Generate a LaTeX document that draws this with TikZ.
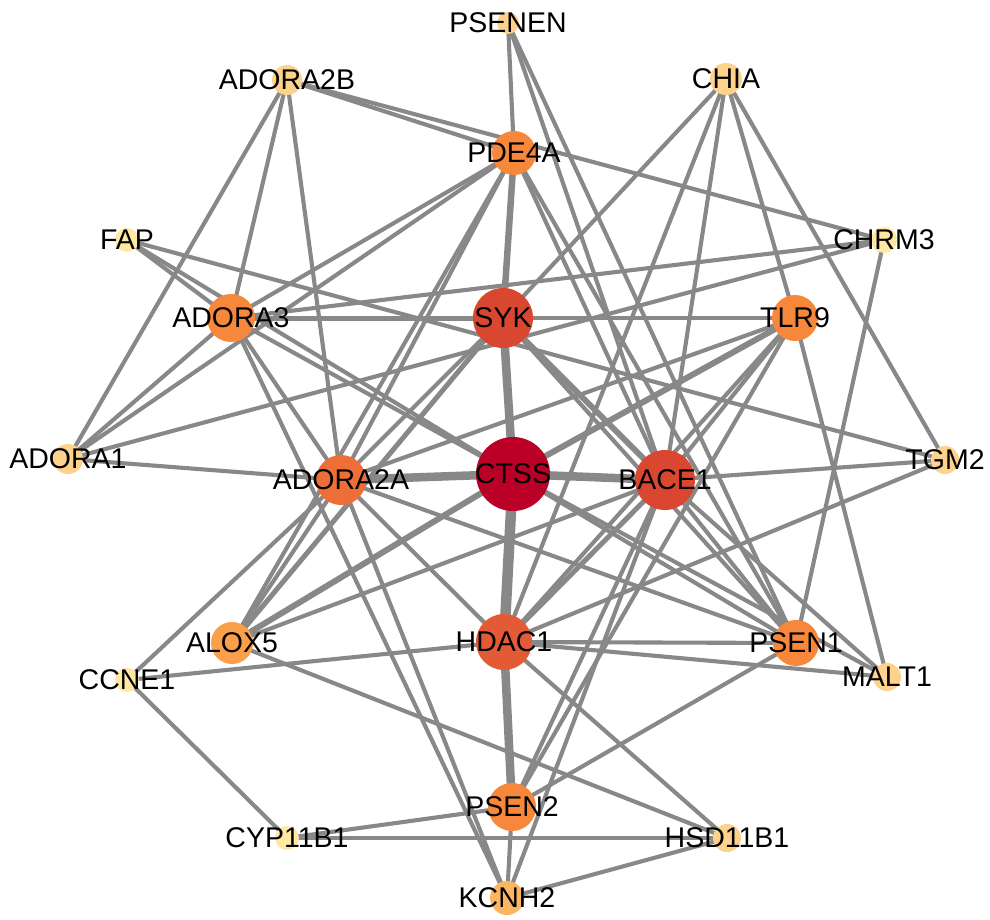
\documentclass[tikz,border=0pt]{standalone}
\usepackage{fontspec}
\setmainfont{Liberation Sans}
\pgfdeclarelayer{bg}
\pgfdeclarelayer{fg}
\pgfsetlayers{bg,main,fg}
\definecolor{edgegray}{HTML}{888888}
\definecolor{cRa}{HTML}{BB0028}
\definecolor{cRb}{HTML}{DA4730}
\definecolor{cRc}{HTML}{E35B36}
\definecolor{cRd}{HTML}{EE6E37}
\definecolor{cOa}{HTML}{F7873A}
\definecolor{cOb}{HTML}{FAA04B}
\definecolor{cOc}{HTML}{FCB662}
\definecolor{cYa}{HTML}{FDD28A}
\definecolor{cYb}{HTML}{FEE8A2}
\begin{document}
\begin{tikzpicture}[x=1pt,y=-1pt,
  nd/.style={circle, inner sep=0pt, draw=none},
  lbl/.style={font=\fontsize{28.5}{30}\selectfont, inner sep=0pt, text=black},
  ed/.style={draw=edgegray, line width=4.1pt},
  edw/.style={draw=edgegray, line width=#1}]
\useasboundingbox (0,0) rectangle (990,920);
% nodes
\node[nd, fill=cYa, minimum size=22pt] (PSENEN) at (508,23) {};
\node[nd, fill=cYa, minimum size=30pt] (ADORA2B) at (287,80) {};
\node[nd, fill=cYa, minimum size=32pt] (CHIA) at (726,79) {};
\node[nd, fill=cOa, minimum size=44pt] (PDE4A) at (514,153) {};
\node[nd, fill=cYb, minimum size=24pt] (FAP) at (127,240) {};
\node[nd, fill=cYb, minimum size=26pt] (CHRM3) at (884,240) {};
\node[nd, fill=cOa, minimum size=48pt] (ADORA3) at (231,318) {};
\node[nd, fill=cRb, minimum size=60pt] (SYK) at (503,318) {};
\node[nd, fill=cOa, minimum size=46pt] (TLR9) at (795,318) {};
\node[nd, fill=cYa, minimum size=30pt] (ADORA1) at (68,459) {};
\node[nd, fill=cRd, minimum size=50pt] (ADORA2A) at (341,480) {};
\node[nd, fill=cRa, minimum size=74pt] (CTSS) at (513,474) {};
\node[nd, fill=cRb, minimum size=60pt] (BACE1) at (665,480) {};
\node[nd, fill=cYa, minimum size=28pt] (TGM2) at (945,460) {};
\node[nd, fill=cOb, minimum size=42pt] (ALOX5) at (232,643) {};
\node[nd, fill=cRc, minimum size=56pt] (HDAC1) at (504,642) {};
\node[nd, fill=cOa, minimum size=46pt] (PSEN1) at (796,643) {};
\node[nd, fill=cYb, minimum size=24pt] (CCNE1) at (127,680) {};
\node[nd, fill=cYa, minimum size=28pt] (MALT1) at (887,677) {};
\node[nd, fill=cOa, minimum size=48pt] (PSEN2) at (512,807) {};
\node[nd, fill=cYb, minimum size=24pt] (CYP11B1) at (287,838) {};
\node[nd, fill=cYa, minimum size=28pt] (HSD11B1) at (727,838) {};
\node[nd, fill=cOc, minimum size=34pt] (KCNH2) at (507,898) {};
% labels
\begin{pgfonlayer}{fg}
\foreach \n in {PSENEN,ADORA2B,CHIA,PDE4A,FAP,CHRM3,ADORA3,SYK,TLR9,ADORA1,ADORA2A,CTSS,BACE1,TGM2,ALOX5,HDAC1,PSEN1,CCNE1,MALT1,PSEN2,CYP11B1,HSD11B1,KCNH2}
  \node[lbl] (\n-l) at (\n) {\n};
\end{pgfonlayer}
% edges
\begin{pgfonlayer}{bg}
\fill[white] (0,0) rectangle (990,920);
\foreach \a/\b in {PSENEN/PDE4A, PSENEN/BACE1, PSENEN/PSEN1,
  ADORA2B/PDE4A, ADORA2B/CHRM3, ADORA2B/ADORA1, ADORA2B/ADORA3, ADORA2B/ADORA2A,
  CHIA/SYK, CHIA/HDAC1, CHIA/BACE1, CHIA/TLR9, CHIA/TGM2,
  PDE4A/ADORA3, PDE4A/ADORA1, PDE4A/ADORA2A, PDE4A/ALOX5, PDE4A/BACE1, PDE4A/PSEN1,
  FAP/ADORA3, FAP/TGM2, FAP/CTSS,
  CHRM3/ADORA3, CHRM3/ADORA1, CHRM3/PSEN1,
  ADORA3/ADORA1, ADORA3/ADORA2A, ADORA3/CTSS, ADORA3/KCNH2,
  SYK/TLR9, SYK/ADORA2A, SYK/PSEN1,
  TLR9/ADORA2A, TLR9/BACE1, TLR9/HDAC1, TLR9/PSEN2, TLR9/MALT1,
  ADORA1/ADORA2A,
  ADORA2A/ALOX5, ADORA2A/CCNE1, ADORA2A/HDAC1, ADORA2A/KCNH2, ADORA2A/PSEN1,
  CTSS/PSEN1, CTSS/MALT1,
  BACE1/TGM2, BACE1/PSEN1, BACE1/PSEN2, BACE1/KCNH2, BACE1/ALOX5, BACE1/MALT1,
  ALOX5/HSD11B1,
  HDAC1/CCNE1, HDAC1/PSEN1, HDAC1/MALT1, HDAC1/HSD11B1, HDAC1/TGM2,
  CCNE1/CYP11B1, CYP11B1/PSEN2, CYP11B1/HSD11B1,
  PSEN2/KCNH2, PSEN2/PSEN1, KCNH2/HSD11B1}
  \draw[ed] (\a.center) -- (\b.center);
\foreach \a/\b/\w in {CTSS/HDAC1/10.5pt, CTSS/SYK/8.5pt, HDAC1/PSEN2/8.5pt, CTSS/ADORA2A/8.5pt,
  CTSS/BACE1/8.5pt, PDE4A/SYK/6.5pt, SYK/BACE1/6pt, CTSS/TLR9/6pt, CTSS/ALOX5/6pt,
  ADORA3/SYK/5pt, HDAC1/BACE1/5pt, SYK/ALOX5/5pt}
  \draw[edw=\w] (\a.center) -- (\b.center);
\end{pgfonlayer}
\end{tikzpicture}
\end{document}
